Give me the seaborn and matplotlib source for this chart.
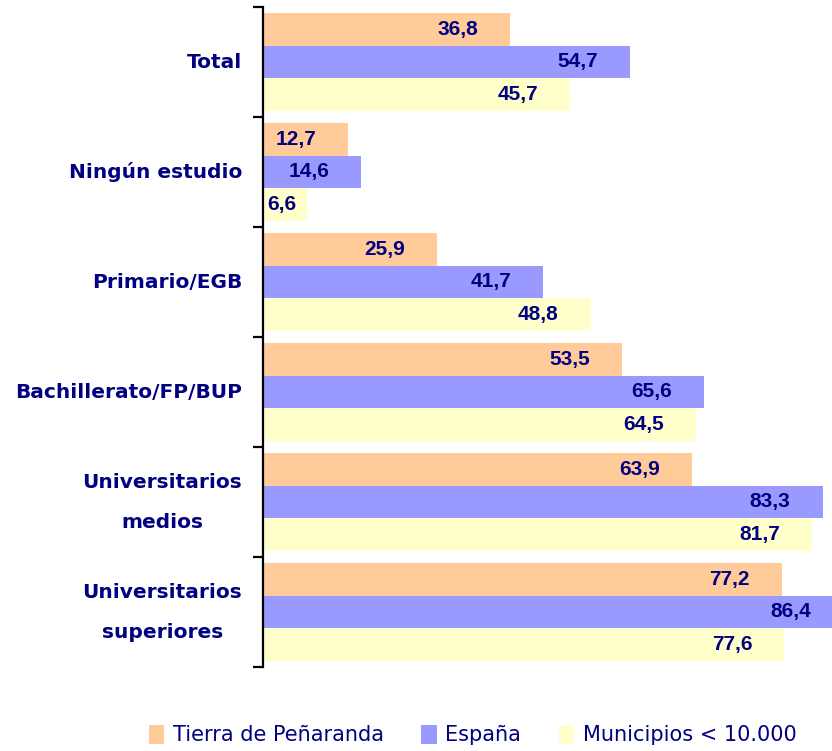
import pandas as pd
import numpy as np
import matplotlib
matplotlib.use("Agg")
import matplotlib.pyplot as plt
import seaborn as sns

# data
categorias = ["Total", "Ningún estudio", "Primario/EGB", "Bachillerato/FP/BUP",
              "Universitarios\nmedios", "Universitarios\nsuperiores"]
series = ["Tierra de Peñaranda", "España", "Municipios < 10.000"]
tierra = [36.8, 12.7, 25.9, 53.5, 63.9, 77.2]
espana = [54.7, 14.6, 41.7, 65.6, 83.3, 86.4]
municipios = [45.7, 6.6, 48.8, 64.5, 81.7, 77.6]
colores = ["#FFCC99", "#9999FF", "#FFFFCC"]
navy = "#000080"

df = pd.DataFrame({
    "categoria": categorias * 3,
    "serie": [series[0]] * 6 + [series[1]] * 6 + [series[2]] * 6,
    "valor": tierra + espana + municipios,
})

sns.set_style("white")
plt.rcParams["font.family"] = ["DejaVu Sans"]

fig = plt.figure(figsize=(8.32, 7.51), dpi=100)
ax = fig.add_axes([263 / 832, 1 - 667 / 751, 1 - 263 / 832, 660 / 751])

sns.barplot(data=df, y="categoria", x="valor", hue="serie", orient="h",
            palette=colores, saturation=1, width=0.89, gap=0, linewidth=0,
            order=categorias, hue_order=series, ax=ax)

ax.set_xlim(0, 84.7)
ax.set_ylim(5.5, -0.5)

# value labels inside the bar end
px = fig.dpi / 72.0
for cont in ax.containers:
    for p in cont:
        v = p.get_width()
        y = p.get_y() + p.get_height() / 2
        txt = f"{v:.1f}".replace(".", ",")
        val_px = v * (832 - 263) / 84.7
        if val_px < 80:
            ax.annotate(txt, xy=(0, y), xytext=(4 / px, 0), textcoords="offset points",
                        ha="left", va="center", fontsize=15, fontweight="bold",
                        color=navy, family="Liberation Sans", annotation_clip=False)
        else:
            ax.annotate(txt, xy=(v, y), xytext=(-32 / px, 0), textcoords="offset points",
                        ha="right", va="center", fontsize=15, fontweight="bold",
                        color=navy, family="Liberation Sans", annotation_clip=False)

# axis: only the left line with outward ticks at the category boundaries
ax.set_yticks(np.arange(-0.5, 6, 1))
ax.set_yticklabels([])
ax.set_yticks(np.arange(6), minor=True)
ax.set_yticklabels(categorias, minor=True, fontsize=14.5, fontweight="bold",
                   color=navy, multialignment="center", linespacing=2.4)
for t in ax.get_yticklabels(minor=True):
    t.set_verticalalignment("center")
ax.tick_params(axis="y", which="major", left=True, length=7, width=1.6,
               direction="out", color="black")
ax.tick_params(axis="y", which="minor", left=True, length=0, pad=15)
ax.set_xticks([])
ax.set_xlabel("")
ax.set_ylabel("")
for s in ["top", "right", "bottom"]:
    ax.spines[s].set_visible(False)
ax.spines["left"].set_linewidth(1.6)
ax.spines["left"].set_color("black")

handles, labels = ax.get_legend_handles_labels()
ax.get_legend().remove()
fig.legend(handles, labels, loc="center", bbox_to_anchor=(0.568, 0.021), ncol=3,
           frameon=False, fontsize=15, handlelength=0.75, handleheight=1.0,
           handletextpad=0.4, columnspacing=1.8, labelcolor=navy)

fig.savefig("out.png", dpi=100)
